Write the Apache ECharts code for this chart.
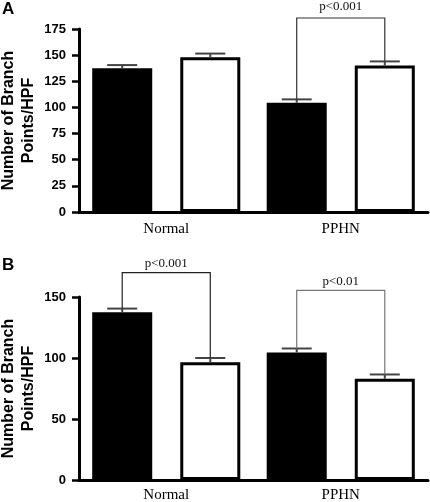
<!DOCTYPE html>
<html><head><meta charset="utf-8">
<script src="https://cdn.jsdelivr.net/npm/echarts@6/dist/echarts.min.js"></script>
<style>html,body{margin:0;padding:0;background:#fff}#c{width:430px;height:502px}</style>
</head><body><div id="c"></div>
<script>
// ---- data ----
const categories = ['Normal', 'PPHN'];
// Panel A
const aBlack = [137.5, 104.5];
const aBlackErr = [140.5, 107.7];
const aWhite = [148, 140];
const aWhiteErr = [151.5, 144];
// Panel B
const bBlack = [137.5, 104.5];
const bBlackErr = [140.5, 107.8];
const bWhite = [96.5, 83];
const bWhiteErr = [100, 86.5];
// brackets: [categoryIndex, leftLegBottom, rightLegBottom, bracketTop, textY]
const aBrackets = [[1, 107.7, 144, 185.5, 196]];
const aBracketLabels = ['p<0.001'];
const bBrackets = [[0, 140.5, 100, 170, 177], [1, 107.8, 86.5, 155.5, 163]];
const bBracketLabels = ['p<0.001', 'p<0.01'];
const aTicks = {min: 0, max: 175, interval: 25};
const bTicks = {min: 0, max: 150, interval: 50};

// ---- chart ----
const BW = 0.344, GAP = 0.467;
function barOffset(api, side) {
  const catW = api.size([1, 0])[0];
  const bw = catW * BW;
  return side * (bw + bw * GAP) / 2;
}
function errSeries(gi, vals, errs, side) {
  return {
    type: 'custom', xAxisIndex: gi, yAxisIndex: gi, z: 5, silent: true,
    data: vals.map((v, i) => [i, v, errs[i]]),
    renderItem: function (params, api) {
      const c0 = api.coord([api.value(0), api.value(1)]);
      const c1 = api.coord([api.value(0), api.value(2)]);
      const x = c0[0] + barOffset(api, side);
      const catW = api.size([1, 0])[0];
      const hw = catW * BW * 0.25;
      const st = {stroke: '#444', lineWidth: 2};
      return {type: 'group', children: [
        {type: 'line', shape: {x1: x, y1: c0[1], x2: x, y2: c1[1]}, style: st},
        {type: 'line', shape: {x1: x - hw, y1: c1[1], x2: x + hw, y2: c1[1]}, style: st}
      ]};
    }
  };
}
function bracketSeries(gi, br, labels, colors) {
  return {
    type: 'custom', xAxisIndex: gi, yAxisIndex: gi, z: 6, silent: true, clip: false,
    data: br,
    renderItem: function (params, api) {
      const ci = api.value(0);
      const pl = api.coord([ci, api.value(1)]);
      const pr = api.coord([ci, api.value(2)]);
      const pt = api.coord([ci, api.value(3)]);
      const ptx = api.coord([ci, api.value(4)]);
      const xl = pl[0] + barOffset(api, -1);
      const xr = pl[0] + barOffset(api, 1);
      const col = colors[params.dataIndex];
      return {type: 'group', children: [
        {type: 'polyline', shape: {points: [[xl, pl[1]], [xl, pt[1]], [xr, pt[1]], [xr, pr[1]]]},
         style: {stroke: col, lineWidth: 1.2, fill: null}},
        {type: 'text', style: {text: labels[params.dataIndex], x: (xl + xr) / 2, y: ptx[1],
          align: 'center', verticalAlign: 'middle', fill: '#111',
          font: '13px "Liberation Serif", "Times New Roman", serif'}}
      ]};
    }
  };
}
const axisLine = {show: true, lineStyle: {color: '#000', width: 3}};
function yAxis(gi, t) {
  return {
    type: 'value', gridIndex: gi, min: t.min, max: t.max, interval: t.interval,
    axisLine: axisLine,
    axisTick: {show: true, length: 7, lineStyle: {color: '#000', width: 2.5}},
    splitLine: {show: false},
    axisLabel: {margin: 13, color: '#000', fontFamily: 'Liberation Sans, Arial, sans-serif', fontWeight: 'bold', fontSize: 13},
    name: 'Number of Branch\nPoints/HPF', nameLocation: 'middle', nameGap: 40, nameRotate: 90,
    nameMoveOverlap: false,
    nameTextStyle: {color: '#000', fontFamily: 'Liberation Sans, Arial, sans-serif', fontWeight: 'bold', fontSize: 16, lineHeight: 20}
  };
}
function xAxis(gi, margin) {
  return {
    type: 'category', gridIndex: gi, data: categories,
    axisLine: axisLine, axisTick: {show: false},
    axisLabel: {margin: margin, color: '#000', fontFamily: 'Liberation Serif, Times New Roman, serif', fontSize: 15}
  };
}
function barPair(gi, black, white) {
  return [
    {type: 'bar', xAxisIndex: gi, yAxisIndex: gi, data: black, barWidth: (BW * 100) + '%', barGap: (GAP * 100) + '%',
     itemStyle: {color: '#000', borderColor: '#000', borderWidth: 0}, silent: true},
    {type: 'bar', xAxisIndex: gi, yAxisIndex: gi, data: white, barWidth: (BW * 100) + '%', barGap: (GAP * 100) + '%',
     itemStyle: {color: '#fff', borderColor: '#000', borderWidth: 3}, silent: true}
  ];
}
const chart = echarts.init(document.getElementById('c'), null, {renderer: 'canvas'});
chart.setOption({
  animation: false,
  backgroundColor: '#fff',
  title: [
    {text: 'A', left: 2, top: 1, padding: 0, textStyle: {fontFamily: 'Liberation Sans, Arial, sans-serif', fontWeight: 'bold', fontSize: 17, color: '#000'}},
    {text: 'B', left: 2, top: 257, padding: 0, textStyle: {fontFamily: 'Liberation Sans, Arial, sans-serif', fontWeight: 'bold', fontSize: 17, color: '#000'}}
  ],
  grid: [
    {left: 79, right: 2, top: 29, height: 183, containLabel: false, outerBoundsMode: 'none'},
    {left: 79, right: 2, top: 297, height: 183, containLabel: false, outerBoundsMode: 'none'}
  ],
  xAxis: [xAxis(0, 10), xAxis(1, 8)],
  yAxis: [yAxis(0, aTicks), yAxis(1, bTicks)],
  series: [
    ...barPair(0, aBlack, aWhite),
    ...barPair(1, bBlack, bWhite),
    errSeries(0, aBlack, aBlackErr, -1),
    errSeries(0, aWhite, aWhiteErr, 1),
    errSeries(1, bBlack, bBlackErr, -1),
    errSeries(1, bWhite, bWhiteErr, 1),
    bracketSeries(0, aBrackets, aBracketLabels, ['#333']),
    bracketSeries(1, bBrackets, bBracketLabels, ['#222', '#777'])
  ]
});
</script></body></html>
